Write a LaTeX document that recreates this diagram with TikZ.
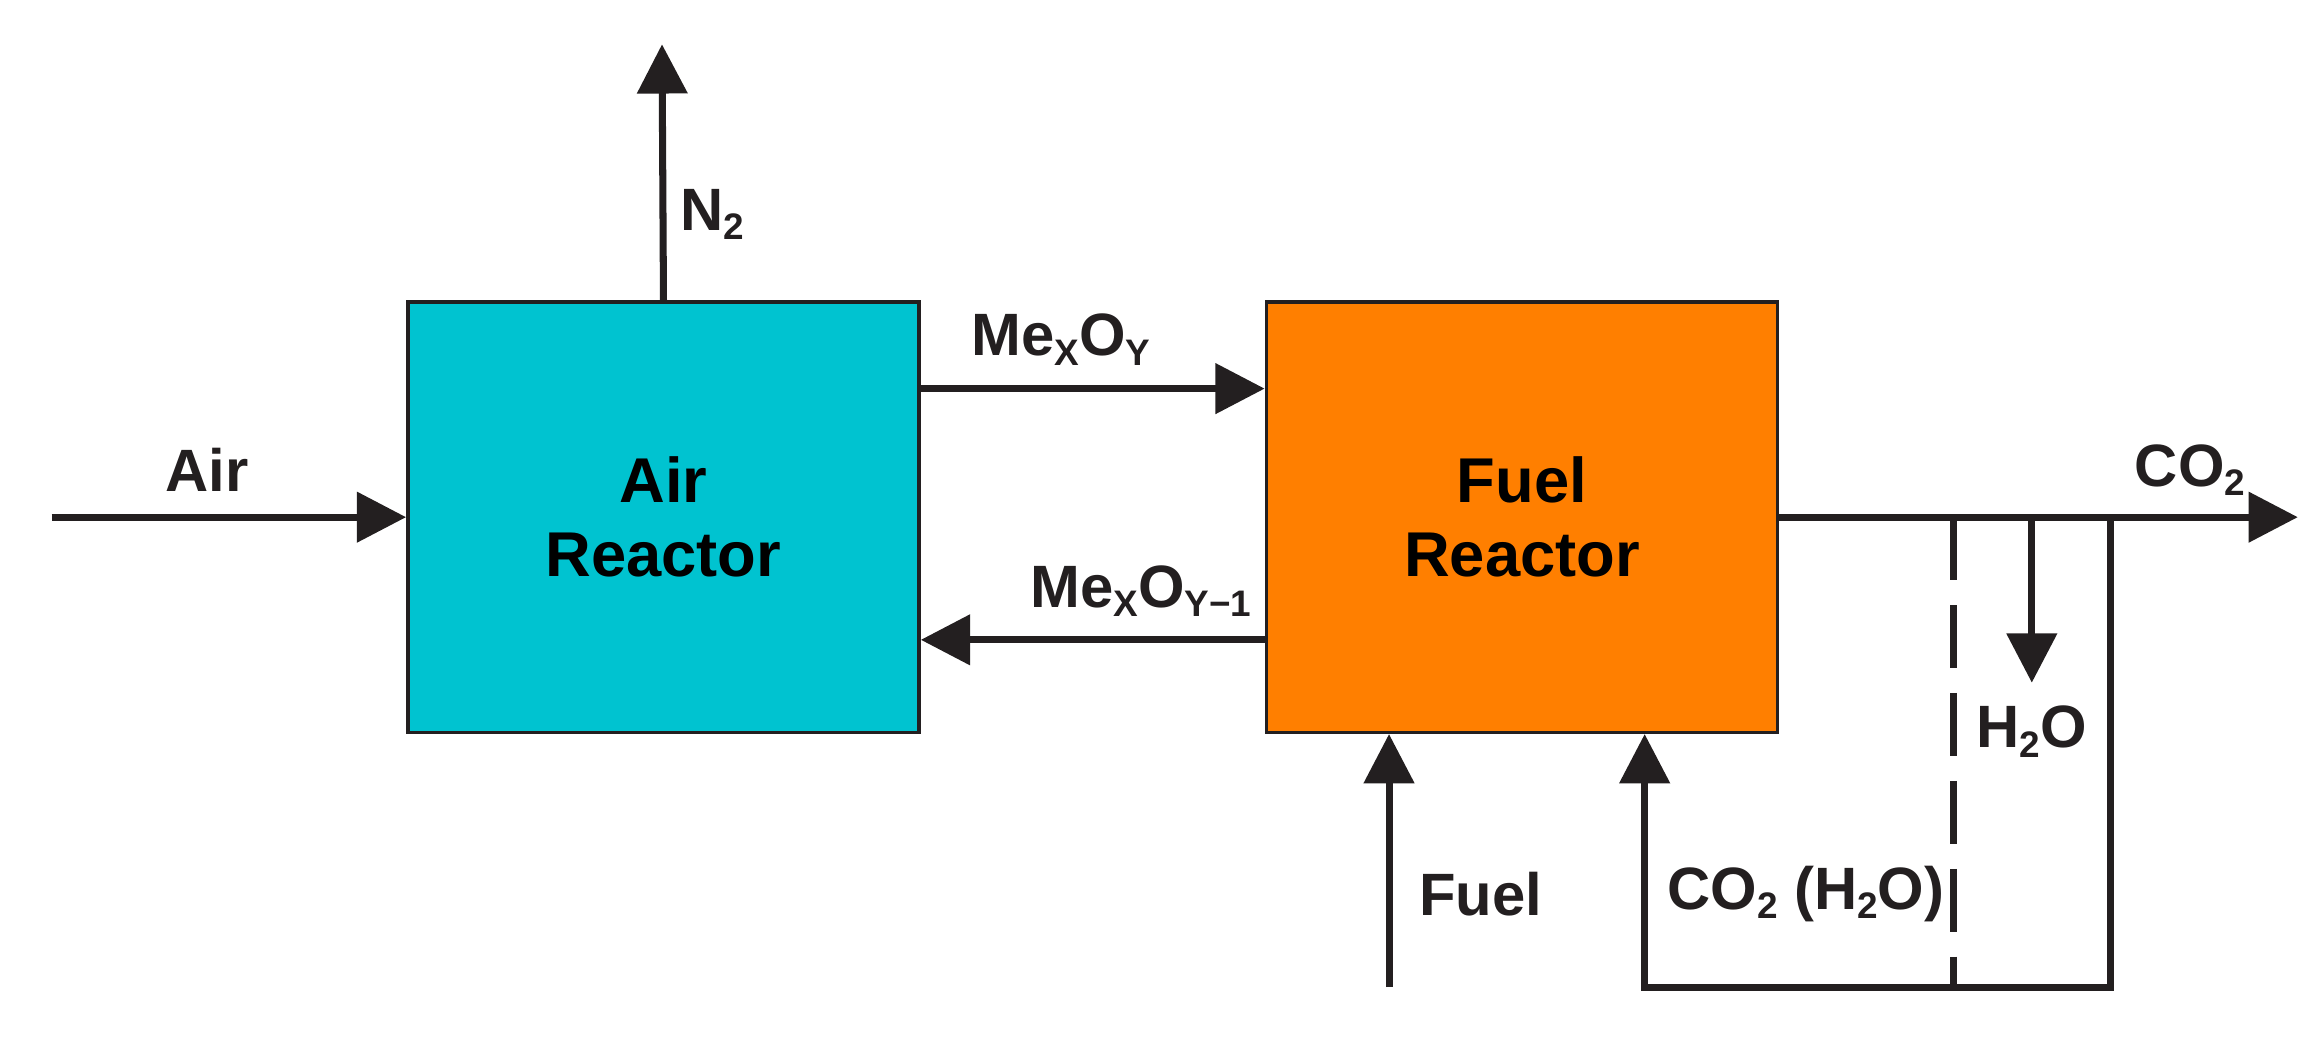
\documentclass[tikz,border=0pt]{standalone}
\usepackage{fontspec}
\setmainfont{Liberation Sans}
\usetikzlibrary{arrows.meta,positioning}
\definecolor{aircyan}{HTML}{00C3D0}
\definecolor{fuelorange}{HTML}{FF7F00}
\definecolor{ink}{HTML}{231F20}
\newcommand{\sbs}[1]{\raisebox{-0.3ex}{\fontsize{10.5}{12}\selectfont #1}}
\tikzset{
  reactor/.style={ % style for the two reactors
    rectangle,draw=ink,line width=1pt,
    minimum width=5.11cm,minimum height=4.30cm,
    align=center,font=\bfseries\fontsize{18}{21}\selectfont,
  },
  flow/.style={ % style for the streams
    -{Triangle[length=14pt,width=14pt]},
    line width=2pt,draw=ink,
  },
  pipe/.style={line width=2pt,draw=ink},
  lbl/.style={font=\bfseries\fontsize{17}{20}\selectfont,text=ink},
}
\begin{document}
\begin{tikzpicture}[x=0.014777cm,y=-0.014777cm]
\useasboundingbox (0,0) rectangle (1568,705);
\node[reactor,fill=aircyan] (ar) at (449,350) {Air\\Reactor};
\node[reactor,fill=fuelorange] (fr) at (1030,350) {Fuel\\Reactor};
% streams around the air reactor
\coordinate (airin) at (35,350);
\coordinate (n2out) at (448,30);
\draw[flow] (airin) -- (ar.west);
\node[lbl] (airlbl) at (140,318) {Air};
\draw[flow] (ar.north) -- (n2out);
\node[lbl] (n2lbl) at (482,145) {N\sbs{2}};
% oxygen carrier loop
\draw[flow] (ar.east |- 0,263) -- (fr.west |- 0,263);
\node[lbl] (oxlbl) at (718,230) {Me\sbs{X}O\sbs{Y}};
\draw[flow] (fr.west |- 0,433) -- (ar.east |- 0,433);
\node[lbl] (redlbl) at (772,400) {Me\sbs{X}O\sbs{Y−1}};
% products and recycle
\coordinate (co2out) at (1555,350);
\coordinate (h2oout) at (1375,462);
\coordinate (split) at (1428,350);
\coordinate (cond) at (1375,350);
\coordinate (loopa) at (1428,668);
\coordinate (loopb) at (1113,668);
\coordinate (fuelin) at (940,668);
\draw[flow] (fr.east) -- (co2out);
\node[lbl] (co2lbl) at (1482,318) {CO\sbs{2}};
\draw[flow] (cond) -- (h2oout);
\node[lbl] (h2olbl) at (1375,495) {H\sbs{2}O};
\draw[pipe,dash pattern=on 18pt off 7pt] (1322,350) -- (1322,668);
\draw[flow] (split) -- (loopa) -- (loopb) -- (loopb |- fr.south);
\node[lbl] (reclbl) at (1222,605) {CO\sbs{2} (H\sbs{2}O)};
\draw[flow] (fuelin) -- (fuelin |- fr.south);
\node[lbl] (fuellbl) at (1002,605) {Fuel};
\end{tikzpicture}
\end{document}
